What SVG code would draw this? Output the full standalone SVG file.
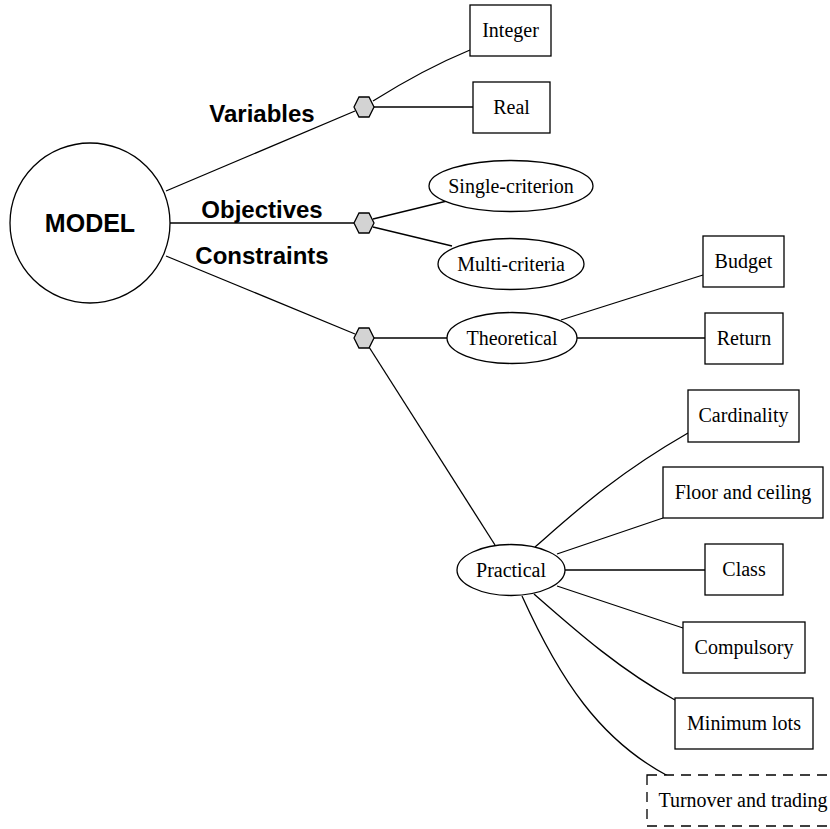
<svg xmlns="http://www.w3.org/2000/svg" width="830" height="829" viewBox="0 0 830 829">
<style>
.n{fill:#fff;stroke:#000;stroke-width:1.3}
.hex{fill:#d3d3d3;stroke:#000;stroke-width:1.3}
.e{fill:none;stroke:#000;stroke-width:1.3}
.t{font-family:"Liberation Serif","Times New Roman",serif;font-size:20px;text-anchor:middle;fill:#000}
.b{font-family:"Liberation Sans",Arial,sans-serif;font-weight:bold;font-size:24px;text-anchor:middle;fill:#000}
.d{fill:#fff;stroke:#000;stroke-width:1.3;stroke-dasharray:10,7}
</style>
<rect width="830" height="829" fill="#fff"/>
<g id="edges">
<line class="e" x1="166" y1="191" x2="355" y2="111"/>
<line class="e" x1="170" y1="223" x2="354" y2="223"/>
<line class="e" x1="166" y1="256" x2="355" y2="334"/>
<path class="e" d="M373,101 Q424,69 470,50"/>
<line class="e" x1="374" y1="107" x2="473" y2="107"/>
<line class="e" x1="373" y1="219" x2="447" y2="201"/>
<line class="e" x1="373" y1="227" x2="452" y2="246"/>
<line class="e" x1="374" y1="338" x2="447" y2="338"/>
<line class="e" x1="561" y1="320" x2="703" y2="275"/>
<line class="e" x1="577" y1="338" x2="705" y2="338"/>
<line class="e" x1="369" y1="347" x2="495" y2="545"/>
<path class="e" d="M535,547 C575,512 615,475 688,433"/>
<line class="e" x1="557" y1="554" x2="663" y2="518"/>
<line class="e" x1="565" y1="570" x2="705" y2="570"/>
<line class="e" x1="557" y1="586" x2="683" y2="628"/>
<path class="e" d="M534,594 C575,630 620,670 675,700"/>
<path class="e" d="M522,596 C560,680 600,740 668,776"/>
</g>
<g id="model">
<circle class="n" cx="90" cy="223" r="80"/>
<text class="b" x="90" y="232" style="font-size:25px">MODEL</text>
</g>
<g id="label-variables"><text class="b" x="262" y="122">Variables</text></g>
<g id="label-objectives"><text class="b" x="262" y="218">Objectives</text></g>
<g id="label-constraints"><text class="b" x="262" y="264">Constraints</text></g>
<g id="hex-variables"><polygon class="hex" points="354,107 359,97 369,97 374,107 369,117 359,117"/></g>
<g id="hex-objectives"><polygon class="hex" points="354,223 359,213 369,213 374,223 369,233 359,233"/></g>
<g id="hex-constraints"><polygon class="hex" points="354,338 359,328 369,328 374,338 369,348 359,348"/></g>
<g id="integer"><rect class="n" x="470" y="5" width="81" height="51"/><text class="t" x="510.5" y="37">Integer</text></g>
<g id="real"><rect class="n" x="473" y="82" width="77" height="51"/><text class="t" x="511.5" y="114">Real</text></g>
<g id="single"><ellipse class="n" cx="511" cy="186" rx="82" ry="25.5"/><text class="t" x="511" y="193">Single-criterion</text></g>
<g id="multi"><ellipse class="n" cx="511" cy="264" rx="73" ry="25.5"/><text class="t" x="511" y="271">Multi-criteria</text></g>
<g id="theoretical"><ellipse class="n" cx="512" cy="338" rx="65" ry="25.5"/><text class="t" x="512" y="345">Theoretical</text></g>
<g id="budget"><rect class="n" x="703" y="236" width="81" height="51"/><text class="t" x="743.5" y="268">Budget</text></g>
<g id="return"><rect class="n" x="705" y="313" width="78" height="51"/><text class="t" x="744" y="345">Return</text></g>
<g id="practical"><ellipse class="n" cx="511" cy="570" rx="54" ry="25.5"/><text class="t" x="511" y="577">Practical</text></g>
<g id="cardinality"><rect class="n" x="688" y="390" width="111" height="52"/><text class="t" x="743.5" y="422">Cardinality</text></g>
<g id="floor"><rect class="n" x="663" y="467" width="160" height="51"/><text class="t" x="743" y="499">Floor and ceiling</text></g>
<g id="class"><rect class="n" x="705" y="544" width="78" height="51"/><text class="t" x="744" y="576">Class</text></g>
<g id="compulsory"><rect class="n" x="683" y="622" width="122" height="51"/><text class="t" x="744" y="654">Compulsory</text></g>
<g id="minimum"><rect class="n" x="675" y="698" width="138" height="51"/><text class="t" x="744" y="730">Minimum lots</text></g>
<g id="turnover"><rect class="d" x="647" y="775" width="192" height="51"/><text class="t" x="743" y="807">Turnover and trading</text></g>
</svg>
